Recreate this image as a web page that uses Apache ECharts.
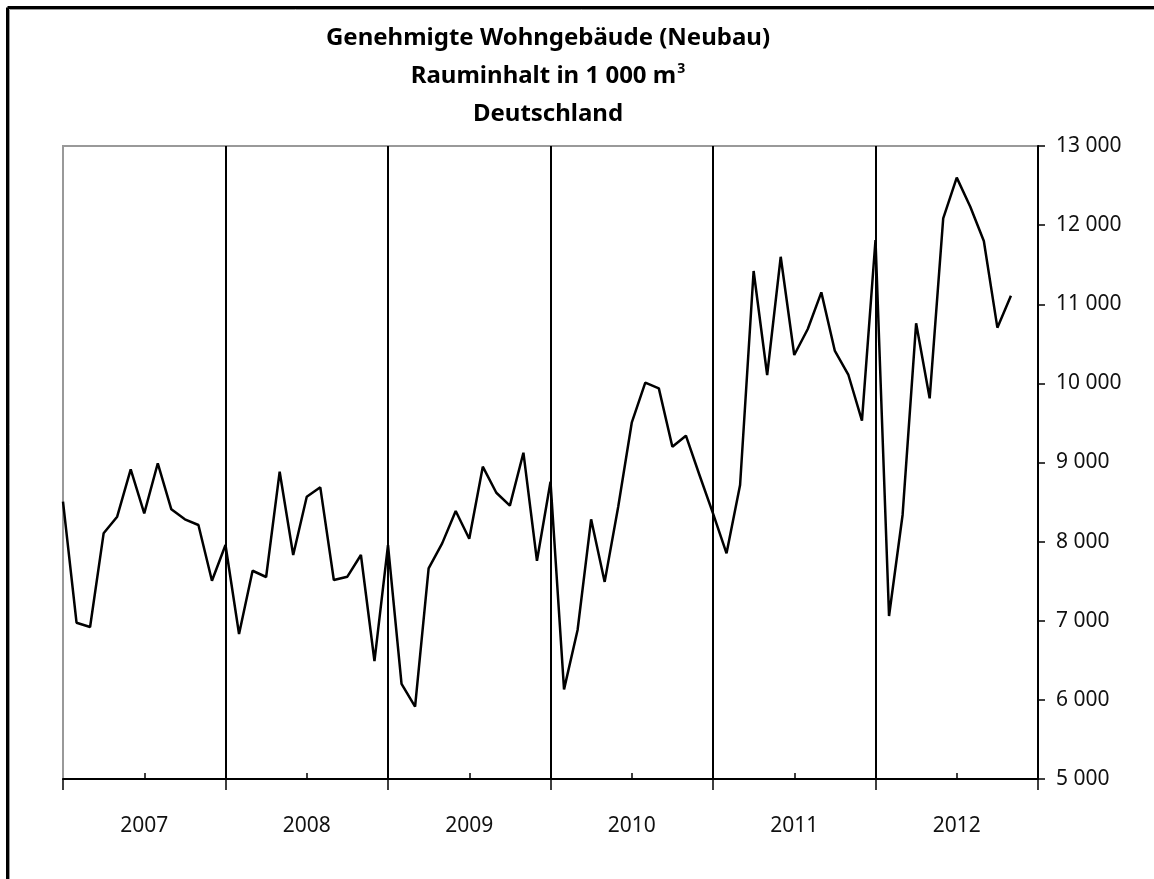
<!DOCTYPE html>
<html>
<head>
<meta charset="utf-8">
<script src="https://cdn.jsdelivr.net/npm/echarts@6/dist/echarts.min.js"></script>
<style>
  html, body { margin: 0; padding: 0; background: #fff; }
  #chart { width: 1154px; height: 879px; }
</style>
</head>
<body>
<div id="chart"></div>
<script>
// Monthly values Jan 2007 .. Nov 2012, in 1 000 m³
const years = ['2007', '2008', '2009', '2010', '2011', '2012'];
const volume = [
  8505, 6975, 6921, 8105, 8315, 8914, 8357, 8990, 8408, 8282, 8210, 7506,
  7957, 6833, 7632, 7553, 8884, 7831, 8567, 8686, 7515, 7557, 7831, 6491,
  7957, 6201, 5914, 7662, 7978, 8387, 8037, 8947, 8618, 8455, 9124, 7758,
  8757, 6133, 6883, 8282, 7491, 8441, 9503, 10009, 9937, 9200, 9339, 8842,
  8357, 7852, 8716, 11420, 10106, 11600, 10359, 10687, 11150, 10410, 10106, 9529,
  11812, 7060, 8337, 10759, 9811, 12086, 12600, 12233, 11799, 10704, 11108
];
const yTicks = { min: 5000, max: 13000, step: 1000 };

const fmtThousands = v => String(v).replace(/\B(?=(\d{3})+(?!\d))/g, ' ');

const chart = echarts.init(document.getElementById('chart'));

const titleFont = { fontFamily: 'Noto Sans', fontWeight: 'bold', fill: '#000' };

chart.setOption({
  backgroundColor: '#fff',
  animation: false,
  graphic: [
    // outer frame (left + top)
    { type: 'line', shape: { x1: 7.5, y1: 7.5, x2: 7.5, y2: 879 }, style: { stroke: '#000', lineWidth: 3 } },
    { type: 'line', shape: { x1: 7.5, y1: 7.5, x2: 1154, y2: 7.5 }, style: { stroke: '#000', lineWidth: 3 } },
    { type: 'line', shape: { x1: 9.5, y1: 9.5, x2: 9.5, y2: 879 }, style: { stroke: '#999', lineWidth: 1 } },
    { type: 'line', shape: { x1: 9.5, y1: 9.5, x2: 1154, y2: 9.5 }, style: { stroke: '#999', lineWidth: 1 } },
    // title, three lines
    {
      type: 'text', x: 548, y: 19,
      style: {
        text: '{t|Genehmigte Wohngebäude (Neubau)}\n{t|Rauminhalt in 1 000 m}{s|3}\n{t|Deutschland}',
        align: 'center', verticalAlign: 'top',
        rich: {
          t: Object.assign({ fontSize: 24, lineHeight: 38 }, titleFont),
          s: Object.assign({ fontSize: 14, verticalAlign: 'top', padding: [5, 0, 0, 1] }, titleFont)
        }
      }
    }
  ],
  grid: {
    left: 63, right: 116, top: 146, bottom: 100,
    show: true, borderColor: '#999', borderWidth: 2, backgroundColor: 'transparent'
  },
  xAxis: [
    {
      type: 'value', min: 0, max: 72, interval: 12,
      axisLine: { show: true, onZero: false, lineStyle: { color: '#000', width: 2 } },
      axisTick: { show: true, inside: false, length: 11, lineStyle: { color: '#000', width: 1.5 } },
      axisLabel: { show: false },
      splitLine: {
        show: true,
        lineStyle: { color: ['#999', '#000', '#000', '#000', '#000', '#000', '#000'], width: 2 }
      }
    },
    {
      type: 'category', data: years, position: 'bottom',
      axisLine: { show: false, onZero: false },
      axisTick: { show: true, inside: true, alignWithLabel: true, length: 6,
                  lineStyle: { color: '#000', width: 1.5 } },
      axisLabel: { margin: 37, fontFamily: 'Noto Sans', fontSize: 21, color: '#111' },
      splitLine: { show: false }
    }
  ],
  yAxis: {
    type: 'value', position: 'right',
    min: yTicks.min, max: yTicks.max, interval: yTicks.step,
    axisLine: { show: true, onZero: false, lineStyle: { color: '#000', width: 2 } },
    axisTick: { show: true, inside: false, length: 7, lineStyle: { color: '#000', width: 1.5 } },
    axisLabel: { margin: 18, fontFamily: 'Noto Sans', fontSize: 21, color: '#111',
                 formatter: fmtThousands },
    splitLine: { show: false }
  },
  series: [{
    type: 'line',
    xAxisIndex: 0,
    data: volume.map((v, i) => [i, v]),
    showSymbol: false,
    lineStyle: { color: '#000', width: 2.5 },
    z: 3
  }]
});
</script>
</body>
</html>
